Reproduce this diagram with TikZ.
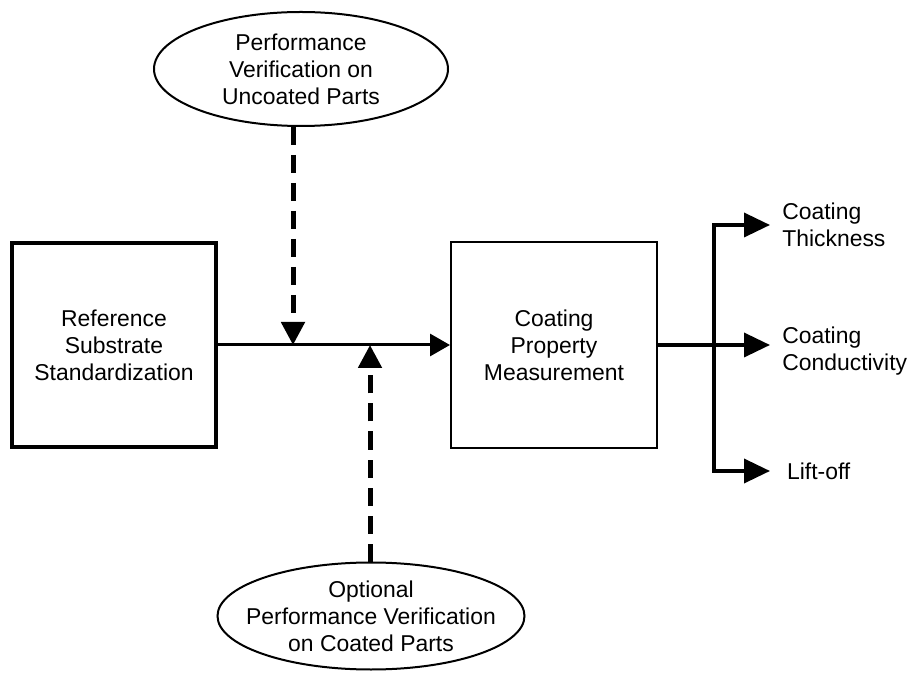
\documentclass[tikz,border=0pt]{standalone}
\usepackage{fontspec}
\setmainfont{Liberation Sans}
\usetikzlibrary{shapes.geometric,arrows.meta}

\begin{document}
\begin{tikzpicture}[
  txt/.style={align=center,font=\fontsize{16.3}{19.2}\selectfont},
  thickbox/.style={txt,draw,line width=0.1cm,minimum width=5.1cm,minimum height=5.1cm},
  thinbox/.style={txt,draw,line width=0.05cm,minimum width=5.15cm,minimum height=5.15cm},
  oval/.style={draw,ellipse,line width=0.05cm,inner sep=0pt},
  flow/.style={line width=0.075cm,-{Triangle[length=0.5cm,width=0.55cm]}},
  branch/.style={line width=0.09cm,-{Triangle[length=0.65cm,width=0.6cm]}},
  dashflow/.style={line width=0.125cm,dash pattern=on 0.45cm off 0.25cm,-{Triangle[length=0.575cm,width=0.575cm]}},
  outlabel/.style={txt,anchor=west,align=left,inner xsep=0.3cm}
]
\useasboundingbox (0,0) rectangle (22.75,16.825);

% boxes
\node[thickbox] (ref) at (2.85,8.2) {Reference\\Substrate\\Standardization};
\node[thinbox] (meas) at (13.85,8.2) {Coating\\Property\\Measurement};

% verification ovals
\node[oval,minimum width=7.35cm,minimum height=2.85cm] (uncoated) at (7.525,15.1) {};
\node[txt] at (uncoated) {Performance\\Verification on\\Uncoated Parts};
\node[oval,minimum width=7.675cm,minimum height=2.675cm] (coated) at (9.275,1.425) {};
\node[txt] at (coated) {Optional\\Performance Verification\\on Coated Parts};

% outputs
\node[outlabel] (thk) at (19.25,11.2) {Coating\\Thickness};
\node[outlabel] (cond) at (19.25,8.05) {Coating\\Conductivity};
\node[outlabel,inner xsep=0.42cm] (lift) at (19.25,5.05) {Lift-off};

\coordinate (down) at (7.325,8.2);
\coordinate (up) at (9.25,8.2);
\coordinate (split) at (17.85,8.2);

\draw[flow] (ref.east) -- (meas.west);
\draw[dashflow] (uncoated.south -| down) -- (down);
\draw[dashflow] (coated.north -| up) -- (up);

\draw[branch] (meas.east) -- (meas.east -| cond.west);
\draw[branch] (split) |- (thk.west);
\draw[branch] (split) |- (lift.west);
\end{tikzpicture}
\end{document}
